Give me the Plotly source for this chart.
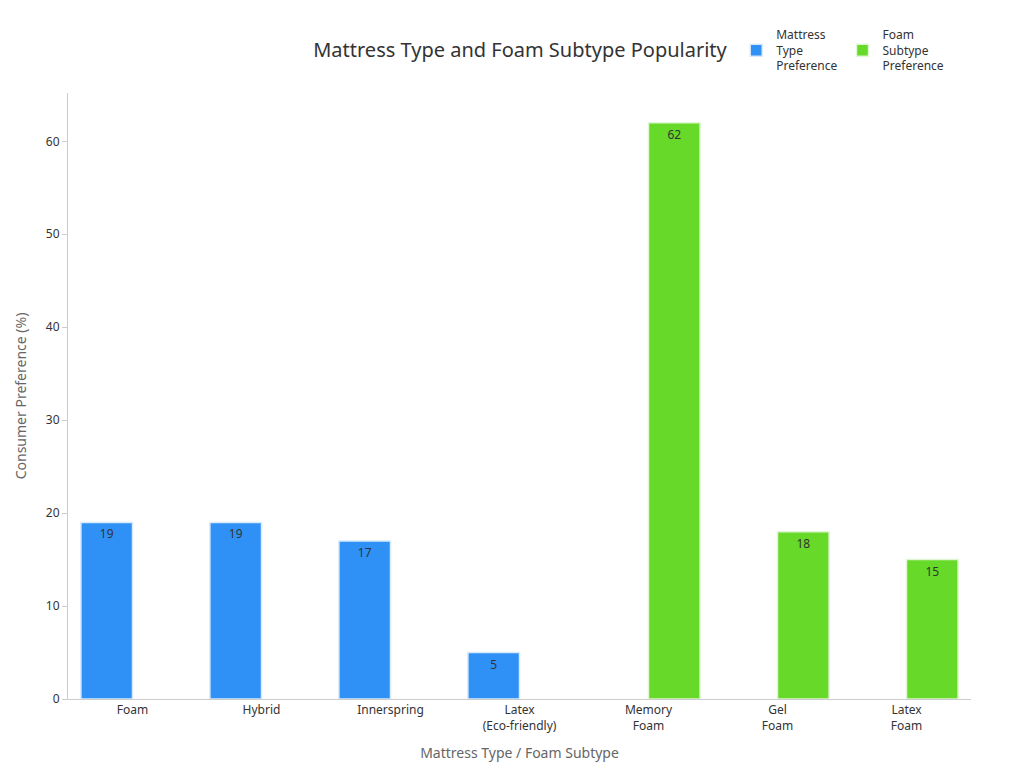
import plotly.graph_objects as go

categories = ["Foam", "Hybrid", "Innerspring", "Latex<br>(Eco-friendly)",
              "Memory<br>Foam", "Gel<br>Foam", "Latex<br>Foam"]
type_pref = [19, 19, 17, 5, None, None, None]
foam_pref = [None, None, None, None, 62, 18, 15]

fig = go.Figure()
fig.add_trace(go.Bar(
    x=categories, y=type_pref, name="Mattress<br>Type<br>Preference",
    marker=dict(color="#2f91f5", line=dict(color="#d8eafc", width=1.5)),
    text=type_pref, textposition="inside", insidetextanchor="end",
    textfont=dict(color="#333333", size=12),
))
fig.add_trace(go.Bar(
    x=categories, y=foam_pref, name="Foam<br>Subtype<br>Preference",
    marker=dict(color="#67d928", line=dict(color="#e0f6d4", width=1.5)),
    text=foam_pref, textposition="inside", insidetextanchor="end",
    textfont=dict(color="#333333", size=12),
))

fig.update_layout(
    width=1024, height=768,
    barmode="group", bargap=0.2, bargroupgap=0,
    plot_bgcolor="white", paper_bgcolor="white",
    font=dict(family="Noto Sans", size=12, color="#333333"),
    title=dict(text="Mattress Type and Foam Subtype Popularity", x=0.5, y=0.955,
               xanchor="center", font=dict(size=20, color="#333333")),
    legend=dict(orientation="h", x=0.74, y=1.12, xanchor="left", yanchor="top",
                font=dict(size=12)),
    margin=dict(l=60, r=61, t=85, b=77),
)
fig.update_xaxes(
    title_text="Mattress Type / Foam Subtype",
    title_font=dict(size=14, color="#666666"),
    showline=True, linecolor="#cccccc", showgrid=False, ticks="",
)
fig.update_yaxes(
    title_text="Consumer Preference (%)",
    title_font=dict(size=14, color="#666666"),
    range=[0, 65.2], dtick=10, showline=True, linecolor="#cccccc",
    showgrid=False, zeroline=False, ticks="outside", ticklen=5, tickcolor="#cccccc",
)

fig.write_html("out.html")
